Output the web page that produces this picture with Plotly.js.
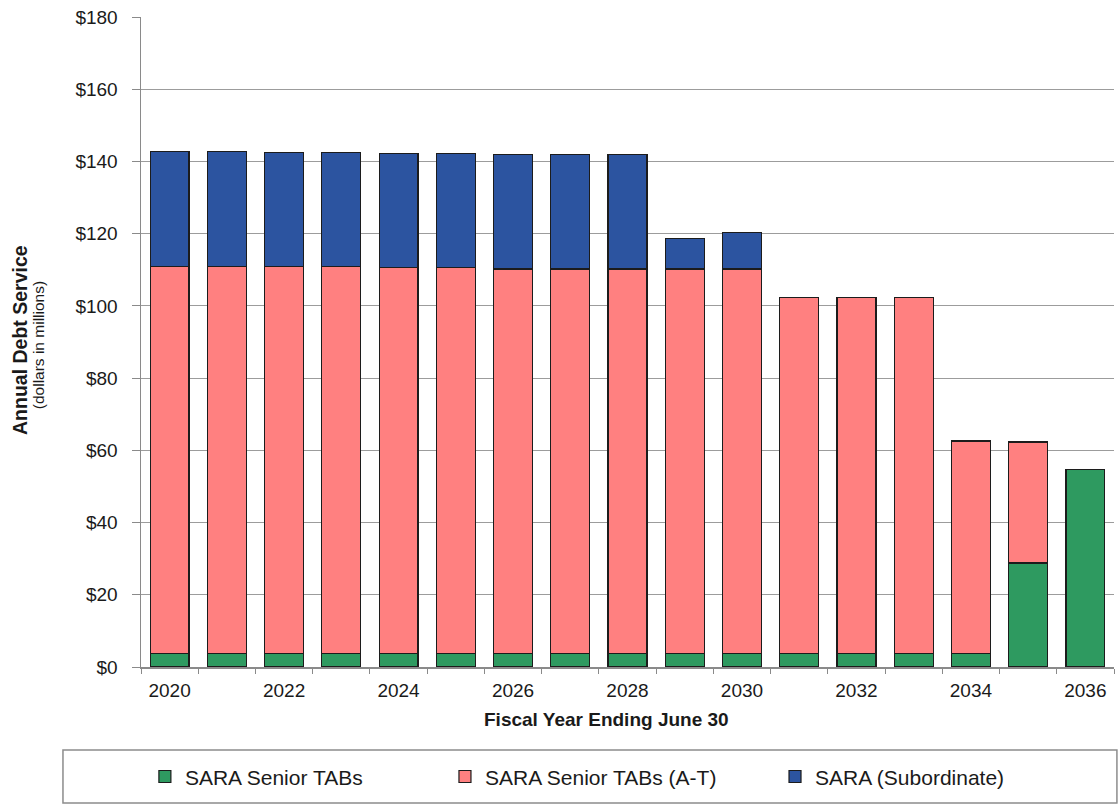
<!DOCTYPE html>
<html>
<head>
<meta charset="utf-8">
<script src="https://cdn.plot.ly/plotly-3.0.1.min.js"></script>
<style>
  html, body { margin: 0; padding: 0; background: #fff; }
  #chart { width: 1119px; height: 806px; }
</style>
</head>
<body>
<div id="chart"></div>
<script>
// Fiscal years (ending June 30)
const years = ['2020','2021','2022','2023','2024','2025','2026','2027','2028',
               '2029','2030','2031','2032','2033','2034','2035','2036'];

// Only even years carry a label
const yearLabels = years.map(y => (parseInt(y, 10) % 2 === 0 ? y : ''));

// Annual debt service, dollars in millions
const seniorTABs = [3.8, 3.8, 3.8, 3.8, 3.8, 3.8, 3.8, 3.8, 3.8,
                    3.8, 3.8, 3.8, 3.8, 3.8, 3.8, 28.8, 54.8];
const seniorTABsAT = [107.1, 107.1, 107.0, 107.0, 106.8, 106.8, 106.4, 106.4, 106.4,
                      106.4, 106.4, 98.5, 98.5, 98.5, 58.8, 33.5, null];
const subordinate = [31.8, 31.8, 31.7, 31.7, 31.7, 31.6, 31.8, 31.8, 31.7,
                     8.5, 10.1, null, null, null, null, null, null];

const seriesNames = ['SARA Senior TABs', 'SARA Senior TABs (A-T)', 'SARA (Subordinate)'];
const seriesColors = ['#2e9a60', '#ff8080', '#2c54a0'];

const FONT = '"Liberation Sans", Arial, sans-serif';
const TEXT = '#1a1a1a';

function barTrace(values, i, legendId) {
  return {
    type: 'bar',
    x: years,
    y: values,
    name: seriesNames[i],
    legend: legendId,
    marker: { color: seriesColors[i], line: { color: '#1c1c1c', width: 1.2 } },
    hoverinfo: 'x+y+name'
  };
}

const data = [
  barTrace(seniorTABs, 0, 'legend'),
  barTrace(seniorTABsAT, 1, 'legend2'),
  barTrace(subordinate, 2, 'legend3')
];

const legendBase = {
  orientation: 'h',
  xanchor: 'left',
  yanchor: 'middle',
  y: -0.169,
  bgcolor: 'rgba(0,0,0,0)',
  borderwidth: 0,
  font: { family: FONT, size: 21, color: TEXT }
};

const layout = {
  width: 1119,
  height: 806,
  margin: { l: 141, r: 5, t: 17, b: 139 },
  paper_bgcolor: '#ffffff',
  plot_bgcolor: '#ffffff',
  font: { family: FONT, size: 19, color: TEXT },
  barmode: 'stack',
  bargap: 0.32,
  showlegend: true,
  legend: Object.assign({}, legendBase, { x: 0.004 }),
  legend2: Object.assign({}, legendBase, { x: 0.3124 }),
  legend3: Object.assign({}, legendBase, { x: 0.6516 }),
  xaxis: {
    type: 'category',
    tickmode: 'array',
    tickvals: years,
    ticktext: yearLabels,
    tickson: 'boundaries',
    ticks: 'outside',
    ticklen: 5,
    tickcolor: '#8a8a8a',
    ticklabelstandoff: 6,
    showline: true,
    linecolor: '#8a8a8a',
    linewidth: 1.5,
    showgrid: false,
    tickfont: { family: FONT, size: 19, color: TEXT },
    fixedrange: true
  },
  yaxis: {
    range: [0, 180],
    dtick: 20,
    tick0: 0,
    tickprefix: '$',
    ticks: 'outside',
    ticklen: 8,
    tickcolor: '#8a8a8a',
    ticklabelstandoff: 10,
    showline: true,
    linecolor: '#8a8a8a',
    linewidth: 1.5,
    showgrid: true,
    gridcolor: '#9c9c9c',
    gridwidth: 1,
    zeroline: false,
    tickfont: { family: FONT, size: 19, color: TEXT },
    fixedrange: true
  },
  annotations: [
    {
      text: '<b>Fiscal Year Ending June 30</b>',
      xref: 'paper', yref: 'paper',
      x: 0.478, y: -0.0815,
      xanchor: 'center', yanchor: 'middle',
      showarrow: false,
      font: { family: FONT, size: 19, color: TEXT }
    },
    {
      text: '<b>Annual Debt Service</b>',
      xref: 'paper', yref: 'paper',
      x: -0.1244, y: 0.503,
      xanchor: 'center', yanchor: 'middle',
      textangle: -90,
      showarrow: false,
      font: { family: FONT, size: 19.5, color: TEXT }
    },
    {
      text: '(dollars in millions)',
      xref: 'paper', yref: 'paper',
      x: -0.1059, y: 0.495,
      xanchor: 'center', yanchor: 'middle',
      textangle: -90,
      showarrow: false,
      font: { family: FONT, size: 15.5, color: TEXT }
    }
  ],
  shapes: [
    {
      // frame around the legend row
      type: 'rect',
      xref: 'paper', yref: 'paper',
      x0: -0.0802, x1: 1.003,
      y0: -0.2092, y1: -0.1277,
      line: { color: '#8c8c8c', width: 1.5 },
      fillcolor: 'rgba(0,0,0,0)',
      layer: 'below'
    }
  ]
};

Plotly.newPlot('chart', data, layout, { displayModeBar: false, staticPlot: true });
</script>
</body>
</html>
